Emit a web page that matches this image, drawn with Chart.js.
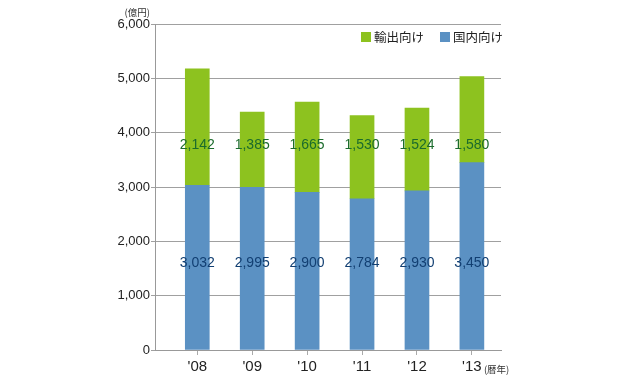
<!DOCTYPE html>
<html>
<head>
<meta charset="utf-8">
<script src="https://cdn.jsdelivr.net/npm/chart.js@4"></script>
<style>
  html, body { margin: 0; padding: 0; background: #fff; }
  canvas { display: block; }
</style>
</head>
<body>
<canvas id="myChart" width="620" height="381"></canvas>
<script>
const years = ["'08", "'09", "'10", "'11", "'12", "'13"];
const domestic = [3032, 2995, 2900, 2784, 2930, 3450];
const exports = [2142, 1385, 1665, 1530, 1524, 1580];
const seriesNames = ['輸出向け', '国内向け'];
const yTicks = [0, 1000, 2000, 3000, 4000, 5000, 6000];

const GREEN = '#8dc21f';
const BLUE = '#5b91c3';
const NUM_FONT = '"Liberation Sans", Arial, sans-serif';
const JP_FONT = '"Noto Sans CJK JP", sans-serif';

// value labels sit at a fixed height per series in the original
const labelLevel = { domestic: 1600, exports: 3770 };

const valueLabels = {
    id: 'valueLabels',
    afterDatasetsDraw(chart) {
        const ctx = chart.ctx;
        const y = chart.scales.y;
        ctx.save();
        ctx.font = '14px ' + NUM_FONT;
        ctx.textAlign = 'center';
        ctx.textBaseline = 'middle';
        chart.data.datasets.forEach((ds, i) => {
            const meta = chart.getDatasetMeta(i);
            ctx.fillStyle = ds.labelColor;
            meta.data.forEach((bar, j) => {
                ctx.fillText(ds.data[j].y.toLocaleString('en-US'), bar.x, y.getPixelForValue(ds.labelAt));
            });
        });
        ctx.restore();
    }
};

const extras = {
    id: 'extras',
    afterDraw(chart) {
        const ctx = chart.ctx;
        const a = chart.chartArea;
        const x = chart.scales.x;
        ctx.save();
        // unit labels
        ctx.fillStyle = '#333';
        ctx.font = '9.5px ' + JP_FONT;
        ctx.textBaseline = 'middle';
        ctx.textAlign = 'right';
        ctx.fillText('(億円)', a.left - 5, a.top - 12);
        ctx.textAlign = 'left';
        ctx.fillText('(暦年)', x.getPixelForValue(years.length - 1) + 12, a.bottom + 19);
        // legend
        ctx.font = '12.5px ' + JP_FONT;
        ctx.textAlign = 'left';
        let right = a.right + 2;
        const items = [[seriesNames[1], BLUE], [seriesNames[0], GREEN]];
        items.forEach(([name, color]) => {
            const w = ctx.measureText(name).width;
            const tx = right - w;
            ctx.fillStyle = '#222';
            ctx.fillText(name, tx, a.top + 13);
            ctx.fillStyle = color;
            ctx.fillRect(tx - 13, a.top + 8, 10, 10);
            right = tx - 13 - 16;
        });
        ctx.restore();
    }
};

const ctx = document.getElementById('myChart').getContext('2d');

const myChart = new Chart(ctx, {
    type: 'bar',
    data: {
        datasets: [{
            label: seriesNames[1],
            data: domestic.map((v, i) => ({ x: i, y: v })),
            backgroundColor: BLUE,
            labelColor: '#123f72',
            labelAt: labelLevel.domestic,
            barThickness: 24
        }, {
            label: seriesNames[0],
            data: exports.map((v, i) => ({ x: i, y: v })),
            backgroundColor: GREEN,
            labelColor: '#1b6b2c',
            labelAt: labelLevel.exports,
            barThickness: 24
        }]
    },
    plugins: [valueLabels, extras],
    options: {
        responsive: false,
        animation: false,
        layout: { padding: { left: 0, right: 119, top: 24, bottom: 0 } },
        plugins: {
            legend: { display: false },
            tooltip: { enabled: false }
        },
        scales: {
            x: {
                type: 'linear',
                stacked: true,
                offset: false,
                min: -0.77,
                max: 5.53,
                afterBuildTicks: scale => { scale.ticks = years.map((_, i) => ({ value: i })); },
                afterFit: scale => { scale.height = 31; },
                ticks: {
                    callback: v => years[v],
                    font: { family: NUM_FONT, size: 15 },
                    color: '#222',
                    padding: 3,
                    maxRotation: 0,
                    autoSkip: false
                },
                grid: { offset: false, drawOnChartArea: false, color: '#aaa', tickLength: 5 },
                border: { color: '#999' }
            },
            y: {
                stacked: true,
                min: 0,
                max: 6000,
                afterBuildTicks: scale => { scale.ticks = yTicks.map(v => ({ value: v })); },
                afterFit: scale => { scale.width = 155; },
                ticks: {
                    callback: v => v.toLocaleString('en-US'),
                    font: { family: NUM_FONT, size: 13 },
                    color: '#222',
                    padding: 1
                },
                grid: { color: '#a0a0a0', tickLength: 4 },
                border: { color: '#999' }
            }
        }
    }
});
</script>
</body>
</html>
